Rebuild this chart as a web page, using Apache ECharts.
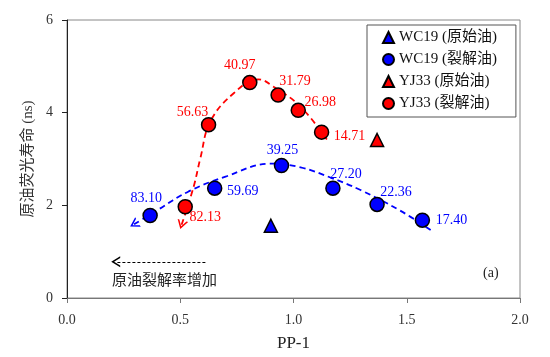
<!DOCTYPE html>
<html>
<head>
<meta charset="utf-8">
<script src="https://cdn.jsdelivr.net/npm/echarts@6/dist/echarts.min.js"></script>
<style>html,body{margin:0;padding:0;background:#fff}#c{width:550px;height:357px}</style>
</head>
<body>
<div id="c"></div>
<script>
// ---- data ----
var seriesNames = ['WC19 (原始油)', 'WC19 (裂解油)', 'YJ33 (原始油)', 'YJ33 (裂解油)'];
var wcOrigX = [0.900];
var wcOrigY = [1.56];
var wcCrackX = [0.367, 0.652, 0.947, 1.174, 1.369, 1.569];
var wcCrackY = [1.78, 2.37, 2.86, 2.37, 2.02, 1.68];
var wcCrackLabels = ['83.10', '59.69', '39.25', '27.20', '22.36', '17.40'];
var yjOrigX = [1.369];
var yjOrigY = [3.41];
var yjCrackX = [0.522, 0.625, 0.807, 0.932, 1.021, 1.124];
var yjCrackY = [1.97, 3.74, 4.65, 4.38, 4.05, 3.58];
var yjCrackLabels = ['82.13', '56.63', '40.97', '31.79', '26.98', '14.71'];
// dashed trend curves
var wcTrendX = [0.296, 0.40, 0.537, 0.70, 0.90, 1.031, 1.163, 1.296, 1.473, 1.61];
var wcTrendY = [1.59, 1.90, 2.30, 2.62, 2.90, 2.82, 2.60, 2.33, 1.88, 1.45];
var yjTrendX = [0.506, 0.559, 0.588, 0.633, 0.736, 0.845, 0.912, 1.031, 1.149];
var yjTrendY = [1.58, 2.40, 3.00, 3.81, 4.42, 4.72, 4.56, 4.13, 3.41];
var xTicks = [0, 0.5, 1.0, 1.5, 2.0];
var yTicks = [0, 2, 4, 6];

// ---- layout / style (not data) ----
var wcLabelOffsets = [[-4,-17],[28,3],[1,-15],[13,-14],[19,-12],[29,0]];
var yjLabelOffsets = [[20,11],[-16,-12],[-10,-17],[17,-14],[22,-8],[28,4]];
var BLUE = '#0000ff', RED = '#ff0000';
var SERIF = '"Liberation Serif","Times New Roman","Noto Sans CJK SC",serif';
// thin open chevron (pointing up), drawn as a filled outline
var CHEVRON = 'path://M0,10L5,0L10,10L8.4,10L5,3.2L1.6,10Z';

function zip(xs, ys) { return xs.map(function (x, i) { return [x, ys[i]]; }); }

function crackData(xs, ys, labels, offs, color) {
  return xs.map(function (x, i) {
    return {
      value: [x, ys[i]],
      label: {
        show: true, formatter: labels[i], position: 'inside', offset: offs[i],
        color: color, fontSize: 14, fontFamily: SERIF, align: 'center', verticalAlign: 'middle'
      }
    };
  });
}

function trendData(xs, ys, color, rot) {
  var d = zip(xs, ys).map(function (p) { return { value: p }; });
  d[0] = {
    value: d[0].value, symbol: CHEVRON, symbolSize: [11, 9], symbolRotate: rot,
    itemStyle: { color: color, borderWidth: 0 }
  };
  return d;
}

var chart = echarts.init(document.getElementById('c'), null, { renderer: 'canvas' });
chart.setOption({
  animation: false,
  backgroundColor: '#fff',
  grid: { left: 67, right: 30, top: 20, bottom: 59, show: true, borderColor: '#888', borderWidth: 1 },
  xAxis: {
    type: 'value', min: xTicks[0], max: xTicks[xTicks.length - 1], interval: 0.5,
    name: 'PP-1', nameLocation: 'middle', nameGap: 37,
    nameTextStyle: { fontFamily: SERIF, fontSize: 17, color: '#222' },
    axisLine: { lineStyle: { color: '#777', width: 1 } },
    axisTick: { show: true, length: 5, lineStyle: { color: '#777' } },
    axisLabel: { fontFamily: SERIF, fontSize: 14, color: '#333', margin: 15,
      formatter: function (v) { return v.toFixed(1); } },
    splitLine: { show: false }
  },
  yAxis: {
    type: 'value', min: yTicks[0], max: yTicks[yTicks.length - 1], interval: 2,
    name: '原油荧光寿命 (ns)', nameLocation: 'middle', nameGap: 26, nameRotate: 90,
    nameTextStyle: { fontFamily: SERIF, fontSize: 15, color: '#333' },
    axisLine: { show: true, lineStyle: { color: '#222', width: 1 } },
    axisTick: { show: true, length: 5, lineStyle: { color: '#222' } },
    axisLabel: { fontFamily: SERIF, fontSize: 14, color: '#333', margin: 14 },
    splitLine: { show: false }
  },
  legend: {
    data: seriesNames, orient: 'vertical', left: 367, top: 25,
    itemWidth: 11, itemHeight: 11, itemGap: 7,
    padding: [5, 19, 6, 15], borderColor: '#555', borderWidth: 1,
    textStyle: { fontFamily: SERIF, fontSize: 15, color: '#111' }
  },
  series: [
    {
      name: 'wcTrend', type: 'line', smooth: 0.4, symbol: 'none', showSymbol: true, z: 1,
      data: trendData(wcTrendX, wcTrendY, BLUE, 120),
      lineStyle: { color: BLUE, width: 1.8, type: [6, 4] }, itemStyle: { color: BLUE },
      silent: true,
      markLine: {
        silent: true, symbol: ['none', CHEVRON], symbolSize: [11, 9],
        lineStyle: { color: '#000', width: 1.2, type: [3, 2] }, label: { show: false },
        data: [[{ coord: [0.611, 0.78] }, { coord: [0.215, 0.78] }]]
      }
    },
    {
      name: 'yjTrend', type: 'line', smooth: 0.4, symbol: 'none', showSymbol: true, z: 1,
      data: trendData(yjTrendX, yjTrendY, RED, 163),
      lineStyle: { color: RED, width: 1.8, type: [6, 4] }, itemStyle: { color: RED },
      silent: true
    },
    {
      name: seriesNames[0], type: 'scatter', symbol: 'triangle', symbolSize: 13, z: 3,
      data: zip(wcOrigX, wcOrigY),
      itemStyle: { color: BLUE, borderColor: '#000', borderWidth: 1.5, opacity: 1 }
    },
    {
      name: seriesNames[1], type: 'scatter', symbol: 'circle', symbolSize: 14, z: 3,
      data: crackData(wcCrackX, wcCrackY, wcCrackLabels, wcLabelOffsets, BLUE),
      itemStyle: { color: BLUE, borderColor: '#000', borderWidth: 1.5, opacity: 1 }
    },
    {
      name: seriesNames[2], type: 'scatter', symbol: 'triangle', symbolSize: 13, z: 3,
      data: zip(yjOrigX, yjOrigY),
      itemStyle: { color: RED, borderColor: '#000', borderWidth: 1.5, opacity: 1 }
    },
    {
      name: seriesNames[3], type: 'scatter', symbol: 'circle', symbolSize: 14, z: 3,
      data: crackData(yjCrackX, yjCrackY, yjCrackLabels, yjLabelOffsets, RED),
      itemStyle: { color: RED, borderColor: '#000', borderWidth: 1.5, opacity: 1 }
    }
  ],
  graphic: [
    { type: 'text', left: 112, top: 272, silent: true,
      style: { text: '原油裂解率增加', font: '15px "Noto Sans CJK SC", sans-serif', fill: '#222' } },
    { type: 'text', left: 483, top: 266, silent: true,
      style: { text: '(a)', font: '14px "Liberation Serif", serif', fill: '#222' } }
  ]
});
</script>
</body>
</html>
